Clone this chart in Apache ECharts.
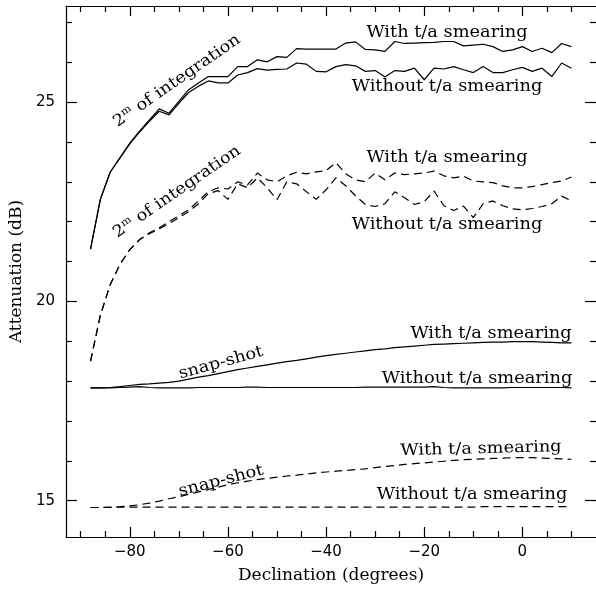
<!DOCTYPE html>
<html>
<head>
<meta charset="utf-8">
<script src="https://cdn.jsdelivr.net/npm/echarts@6/dist/echarts.min.js"></script>
<style>html,body{margin:0;padding:0;background:#fff}#c{width:596px;height:589px}</style>
</head>
<body>
<div id="c"></div>
<script>
// Declination (degrees)
const decl = [-88,-86,-84,-82,-80,-78,-76,-74,-72,-70,-68,-66,-64,-62,-60,-58,-56,-54,-52,-50,
  -48,-46,-44,-42,-40,-38,-36,-34,-32,-30,-28,-26,-24,-22,-20,-18,-16,-14,-12,-10,
  -8,-6,-4,-2,0,2,4,6,8,10];
// 2m integration, solid, with t/a smearing
const intSolidWith = [21.31,22.56,23.24,23.60,23.97,24.27,24.55,24.83,24.72,25.02,
  25.31,25.48,25.64,25.64,25.64,25.89,25.89,26.06,26.01,26.14,
  26.12,26.34,26.33,26.33,26.33,26.33,26.48,26.51,26.32,26.31,
  26.27,26.52,26.47,26.48,26.49,26.50,26.52,26.52,26.41,26.43,
  26.45,26.39,26.27,26.31,26.39,26.27,26.35,26.24,26.47,26.39];
const intSolidWithout = [21.31,22.56,23.24,23.60,23.95,24.25,24.52,24.77,24.68,24.97,
  25.24,25.40,25.53,25.48,25.48,25.68,25.74,25.84,25.80,25.82,
  25.83,25.98,25.95,25.77,25.76,25.89,25.94,25.91,25.77,25.79,
  25.63,25.79,25.77,25.85,25.56,25.85,25.83,25.89,25.81,25.74,
  25.89,25.74,25.74,25.81,25.87,25.77,25.85,25.64,25.98,25.85];
const intDashWith = [18.50,19.65,20.42,20.93,21.30,21.55,21.72,21.85,22.00,22.15,
  22.30,22.52,22.75,22.85,22.82,23.00,22.92,23.22,23.05,23.00,
  23.15,23.24,23.20,23.25,23.28,23.48,23.20,23.05,23.00,23.22,
  23.05,23.22,23.18,23.20,23.22,23.27,23.15,23.10,23.14,23.02,
  23.00,22.98,22.90,22.85,22.85,22.88,22.93,22.98,23.02,23.12];
const intDashWithout = [18.50,19.65,20.42,20.93,21.30,21.55,21.70,21.82,21.95,22.10,
  22.25,22.45,22.70,22.78,22.56,22.95,22.85,23.10,22.85,22.55,
  23.00,22.95,22.75,22.56,22.80,23.10,22.90,22.65,22.43,22.38,
  22.45,22.75,22.60,22.43,22.50,22.77,22.40,22.28,22.39,22.10,
  22.45,22.52,22.40,22.32,22.30,22.33,22.38,22.45,22.64,22.52];
// snap-shot
const snapSolidWith = [17.83,17.83,17.84,17.86,17.89,17.92,17.93,17.95,17.97,18.00,
  18.05,18.10,18.14,18.19,18.24,18.29,18.33,18.37,18.41,18.45,
  18.49,18.52,18.56,18.60,18.64,18.67,18.70,18.73,18.76,18.79,
  18.81,18.84,18.86,18.88,18.90,18.92,18.93,18.94,18.95,18.96,
  18.97,18.98,18.98,18.99,18.99,18.99,18.98,18.97,18.96,18.96];
const snapSolidWithout = [17.83,17.83,17.83,17.84,17.85,17.86,17.84,17.83,17.83,17.83,
  17.83,17.84,17.84,17.84,17.84,17.84,17.85,17.85,17.84,17.84,
  17.84,17.84,17.84,17.84,17.84,17.84,17.84,17.84,17.85,17.85,
  17.85,17.85,17.85,17.85,17.85,17.86,17.84,17.83,17.83,17.83,
  17.83,17.83,17.83,17.84,17.84,17.84,17.84,17.84,17.84,17.83];
const snapDashWith = [14.83,14.83,14.84,14.85,14.87,14.90,14.94,14.99,15.05,15.10,
  15.16,15.22,15.28,15.34,15.40,15.45,15.49,15.53,15.56,15.59,
  15.62,15.64,15.67,15.70,15.72,15.74,15.76,15.78,15.80,15.83,
  15.86,15.88,15.91,15.93,15.95,15.97,15.99,16.01,16.03,16.04,
  16.05,16.06,16.07,16.08,16.08,16.08,16.07,16.06,16.05,16.04];
const snapDashWithout = [14.83,14.83,14.83,14.84,14.84,14.84,14.84,14.84,14.84,14.84,
  14.84,14.84,14.84,14.84,14.84,14.84,14.84,14.84,14.84,14.84,
  14.84,14.84,14.84,14.84,14.84,14.84,14.84,14.84,14.84,14.84,
  14.84,14.84,14.84,14.84,14.84,14.84,14.84,14.84,14.84,14.84,
  14.85,14.85,14.85,14.85,14.85,14.85,14.85,14.85,14.85,14.85];
// ticks
const xMajorTicks = [-80,-60,-40,-20,0];
const xMinorTicks = [-90,-85,-75,-70,-65,-55,-50,-45,-35,-30,-25,-15,-10,-5,5,10];
const yMajorTicks = [15,20,25];
const yMinorTicks = [16,17,18,19,21,22,23,24,26,27];

const XMIN = -93, XMAX = 15, YMIN = 14.09, YMAX = 27.41;
const serif = 'DejaVu Serif';
const sans = 'DejaVu Sans';

function xAx(pos, ticks, len, showLine, labels) {
  return {
    type: 'value', position: pos, min: XMIN, max: XMAX,
    axisLine: {show: showLine, onZero: false, lineStyle: {color: '#000', width: 1.2}},
    axisTick: {show: true, inside: true, length: len, customValues: ticks, lineStyle: {color: '#000', width: 1.2}},
    axisLabel: labels ? {show: true, customValues: ticks, color: '#000', fontFamily: sans, fontSize: 15, margin: 8,
      formatter: v => String(v).replace('-', '\u2212')} : {show: false},
    splitLine: {show: false}
  };
}
function yAx(pos, ticks, len, showLine, labels) {
  return {
    type: 'value', position: pos, min: YMIN, max: YMAX,
    axisLine: {show: showLine, onZero: false, lineStyle: {color: '#000', width: 1.2}},
    axisTick: {show: true, inside: true, length: len, customValues: ticks, lineStyle: {color: '#000', width: 1.2}},
    axisLabel: labels ? {show: true, customValues: ticks, color: '#000', fontFamily: sans, fontSize: 15, margin: 11} : {show: false},
    splitLine: {show: false}
  };
}

const xAxes = [xAx('bottom', xMajorTicks, 10, true, true), xAx('bottom', xMinorTicks, 6, false, false),
  xAx('top', xMajorTicks, 10, true, false), xAx('top', xMinorTicks, 6, false, false)];
Object.assign(xAxes[0], {name: 'Declination (degrees)', nameLocation: 'middle', nameGap: 30,
  nameTextStyle: {fontFamily: serif, fontSize: 17, color: '#000'}});
const yAxes = [yAx('left', yMajorTicks, 11, true, true), yAx('left', yMinorTicks, 6, false, false),
  yAx('right', yMajorTicks, 11, false, false), yAx('right', yMinorTicks, 6, false, false)];
Object.assign(yAxes[0], {name: 'Attenuation (dB)', nameLocation: 'middle', nameGap: 39,
  nameTextStyle: {fontFamily: serif, fontSize: 17, color: '#000'}});

function mk(vals, dashed) {
  return {
    type: 'line', xAxisIndex: 0, yAxisIndex: 0, showSymbol: false, symbol: 'none', animation: false,
    data: decl.map((d, i) => [d, vals[i]]),
    lineStyle: {color: '#000', width: 1.2, type: dashed ? [8, 5] : 'solid'}
  };
}

const SX = 1.11;
function lbl(text, x, y, rotDeg) {
  return {type: 'text', x: x, y: y, rotation: (rotDeg || 0) * Math.PI / 180, scaleX: SX, z: 100,
    style: {text: text, fill: '#000', font: '16px "DejaVu Serif"', align: 'center', verticalAlign: 'middle'}};
}
function intLbl(x, y, rotDeg) {
  return {type: 'text', x: x, y: y, rotation: rotDeg * Math.PI / 180, scaleX: SX, z: 100,
    style: {text: '{n|2}{s|m}{n| of integration}', align: 'center', verticalAlign: 'middle',
      rich: {n: {fontFamily: serif, fontSize: 16, fill: '#000', color: '#000', lineHeight: 19},
             s: {fontFamily: serif, fontSize: 10, fill: '#000', color: '#000', lineHeight: 9, verticalAlign: 'top'}}}};
}

const chart = echarts.init(document.getElementById('c'), null, {renderer: 'canvas'});
chart.setOption({
  animation: false,
  backgroundColor: '#fff',
  grid: {left: 64.8, top: 6, width: 532.5, height: 533},
  xAxis: xAxes,
  yAxis: yAxes,
  series: [mk(intSolidWith, false), mk(intSolidWithout, false), mk(intDashWith, true), mk(intDashWithout, true),
    mk(snapSolidWith, false), mk(snapSolidWithout, false), mk(snapDashWith, true), mk(snapDashWithout, true)],
  graphic: [
    lbl('With t/a smearing', 447, 33),
    lbl('Without t/a smearing', 447, 87),
    lbl('With t/a smearing', 447, 158),
    lbl('Without t/a smearing', 447, 225),
    lbl('With t/a smearing', 491, 334),
    lbl('Without t/a smearing', 477, 379),
    lbl('With t/a smearing', 481, 449, 1.5),
    lbl('Without t/a smearing', 472, 495),
    intLbl(177, 81, 34.7),
    intLbl(177, 192, 34.5),
    lbl('snap-shot', 221, 363, 15.5),
    lbl('snap-shot', 221, 481, 14.5)
  ]
});
</script>
</body>
</html>
